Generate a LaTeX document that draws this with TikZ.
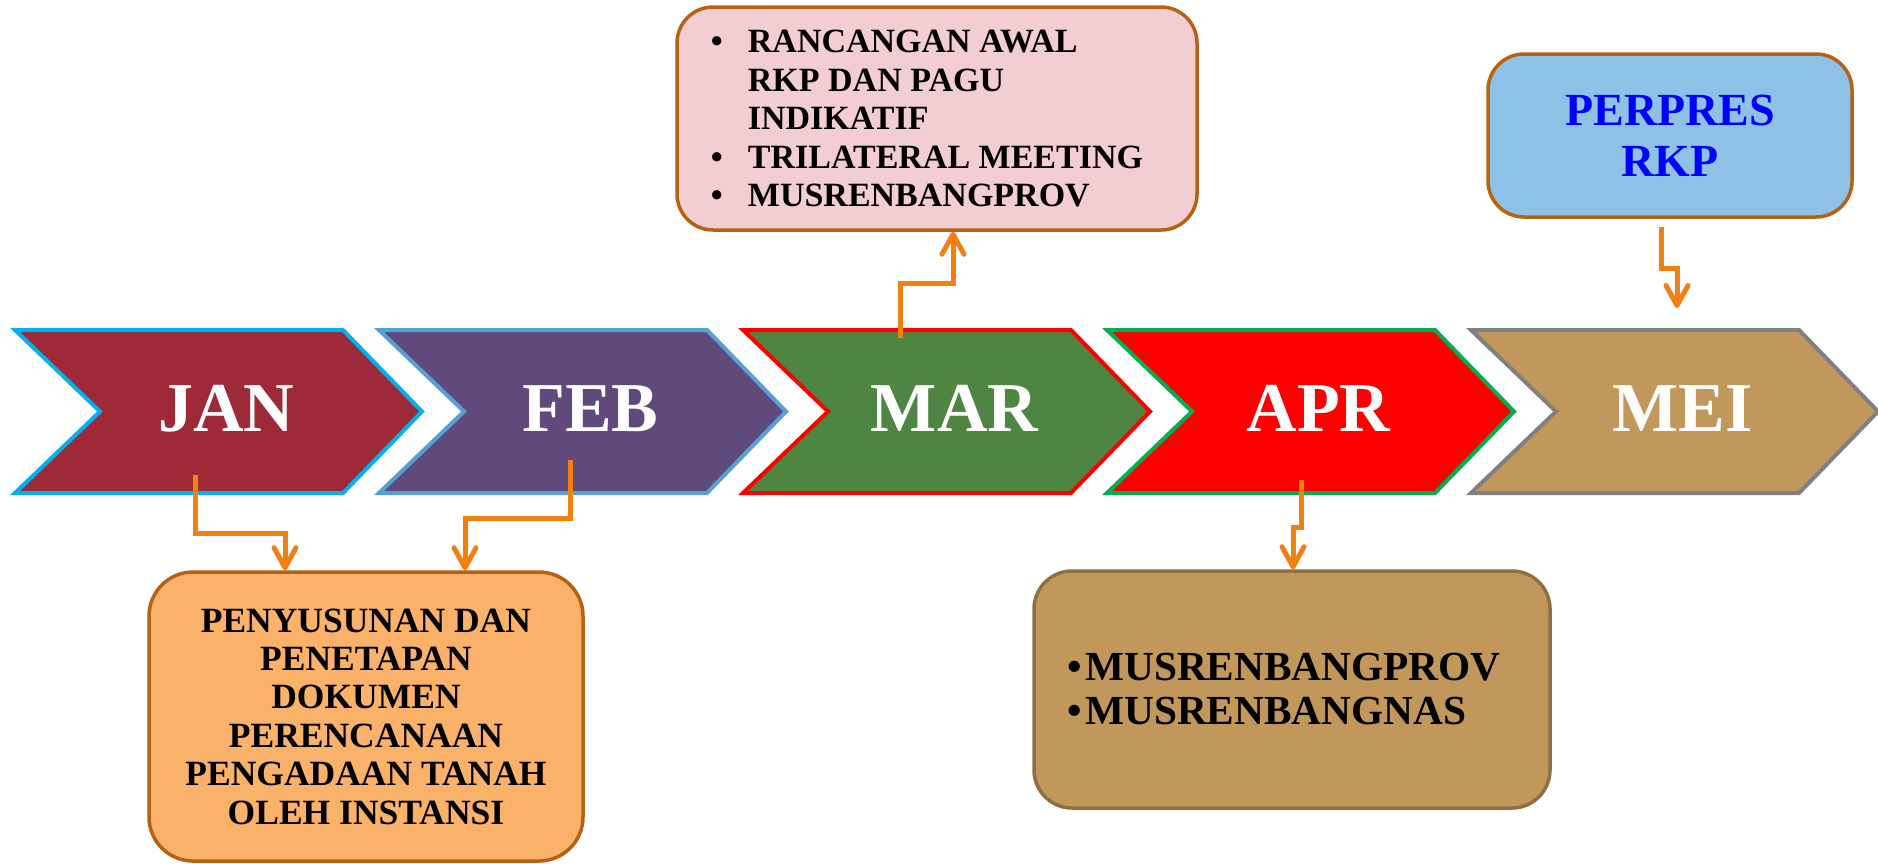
\documentclass[tikz,border=0pt]{standalone}
\usepackage{fontspec}
\setmainfont{Liberation Serif}
\usetikzlibrary{arrows.meta}
\definecolor{janfill}{RGB}{158,42,56}
\definecolor{janline}{RGB}{0,176,240}
\definecolor{febfill}{RGB}{96,74,123}
\definecolor{febline}{RGB}{84,160,215}
\definecolor{marfill}{RGB}{79,133,66}
\definecolor{marline}{RGB}{255,0,0}
\definecolor{aprfill}{RGB}{255,0,0}
\definecolor{aprline}{RGB}{0,176,80}
\definecolor{meifill}{RGB}{193,151,91}
\definecolor{meiline}{RGB}{128,128,128}
\definecolor{boxbrown}{RGB}{183,98,18}
\definecolor{pinkfill}{RGB}{242,206,211}
\definecolor{perfill}{RGB}{141,194,230}
\definecolor{orgfill}{RGB}{250,177,106}
\definecolor{musfill}{RGB}{193,151,91}
\definecolor{musline}{RGB}{142,112,66}
\definecolor{arroworange}{RGB}{240,128,16}
\definecolor{perblue}{RGB}{0,0,255}
\newcommand{\bul}[1]{\makebox[#1][l]{•}}
\begin{document}
\begin{tikzpicture}[x=1pt,y=-1pt,
  month/.style={font=\fontsize{70}{80}\selectfont\bfseries, text=white, inner sep=0pt, anchor=base},
  chev/.style={line width=4pt, line join=miter},
  infobox/.style={rounded corners=36pt, line width=3.5pt, draw=boxbrown, inner sep=0pt},
  conn/.style={draw=arroworange, line width=5pt, line join=miter, -{Straight Barb[length=20pt,width=22pt,round]}}]
\useasboundingbox (0,0) rectangle (1878,863);
\fill[white] (0,0) rectangle (1878,863);

% chevrons
\foreach \i/\nm/\fc/\dc/\lab in {0/jan/janfill/janline/JAN, 1/feb/febfill/febline/FEB, 2/mar/marfill/marline/MAR, 3/apr/aprfill/aprline/APR, 4/mei/meifill/meiline/MEI}{
  \pgfmathsetmacro\xo{15+364*\i}
  \draw[chev, fill=\fc, draw=\dc] (\xo,330) -- ++(328,0) -- ++(79,81.5) -- ++(-79,81.5) -- ++(-328,0) -- ++(85,-81.5) -- cycle;
  \node[month] (\nm) at (\xo+211.5,431.5) {\lab};
}

% boxes
\node[infobox, fill=pinkfill, minimum width=520pt, minimum height=223pt, align=left,
      font=\fontsize{34}{38.5}\selectfont\bfseries] (marbox) at (937,118.5)
  {\bul{37pt}RANCANGAN AWAL\\ \hspace*{37pt}RKP DAN PAGU\\ \hspace*{37pt}INDIKATIF\\ \bul{37pt}TRILATERAL MEETING\rule{20pt}{0pt}\\ \bul{37pt}MUSRENBANGPROV};

\node[infobox, fill=perfill, minimum width=364pt, minimum height=163pt, align=center, text=perblue,
      font=\fontsize{46}{51}\selectfont\bfseries] (perbox) at (1670,135.5)
  {PERPRES\\RKP};

\node[infobox, rounded corners=44pt, fill=orgfill, minimum width=434pt, minimum height=289pt, align=center,
      font=\fontsize{35.5}{38.4}\selectfont\bfseries] (penbox) at (366,716.5)
  {PENYUSUNAN DAN\\PENETAPAN\\DOKUMEN\\PERENCANAAN\\PENGADAAN TANAH\\OLEH INSTANSI};

\node[infobox, rounded corners=38pt, draw=musline, fill=musfill, minimum width=516pt, minimum height=237pt, align=left,
      font=\fontsize{41.3}{44}\selectfont\bfseries] (musbox) at (1292,689.5)
  {\bul{18pt}MUSRENBANGPROV\rule{16pt}{0pt}\\ \bul{18pt}MUSRENBANGNAS};

% connector ends
\coordinate (janout) at (195,475);
\coordinate (febout) at (570,460);
\coordinate (marout) at (900,338);
\coordinate (aprout) at (1301,480);
\coordinate (perout) at (1661,227);
\coordinate (meiin) at (1677,308);

% connectors
\draw[conn] (janout) |- (285,533) -- (285,533 |- penbox.north);
\draw[conn] (febout) |- (465,518) -- (465,518 |- penbox.north);
\draw[conn] (marout) |- (953,283) -- (953,283 |- marbox.south);
\draw[conn] (aprout) |- (1293,527) -- (1293,527 |- musbox.north);
\draw[conn] (perout) |- (1677,268) -- (meiin);
\end{tikzpicture}
\end{document}
